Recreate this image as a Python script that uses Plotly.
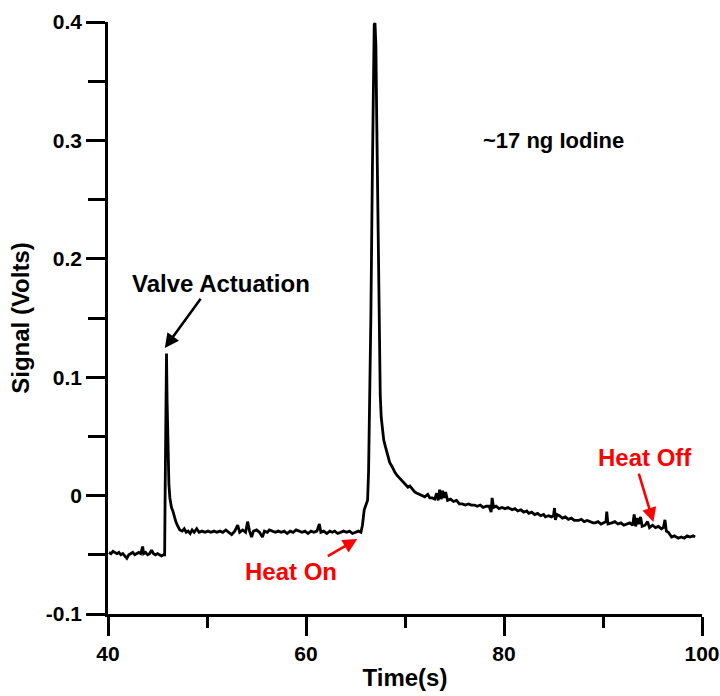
import plotly.graph_objects as go

time_s = [
    40.1, 40.3, 40.5, 40.7, 40.9, 41.1, 41.3, 41.5, 41.7, 41.9, 42.1, 42.3, 42.5, 42.7, 42.9,
    43.1, 43.3, 43.5, 43.6, 43.8, 44.0, 44.2, 44.4, 44.6, 44.8, 45.0, 45.2, 45.4, 45.6, 45.72,
    45.78, 45.85, 45.91, 45.97, 46.05, 46.15, 46.25, 46.41, 46.55, 46.7, 46.85, 47.0, 47.25,
    47.5, 47.7, 47.9, 48.1, 48.3, 48.5, 48.7, 48.96, 49.2, 49.5, 49.8, 50.1, 50.4, 50.7, 51.0,
    51.3, 51.6, 51.9, 52.2, 52.49, 52.8, 53.1, 53.3, 53.6, 53.9, 54.1, 54.3, 54.5, 54.7, 55.0,
    55.3, 55.6, 55.8, 56.1, 56.3, 56.6, 56.9, 57.2, 57.5, 57.8, 58.1, 58.4, 58.7, 59.0, 59.3,
    59.6, 59.9, 60.2, 60.5, 60.8, 61.1, 61.35, 61.5, 61.8, 62.1, 62.4, 62.66, 62.9, 63.2, 63.5,
    63.8, 64.1, 64.4, 64.7, 65.0, 65.3, 65.55, 65.7, 65.88, 66.08, 66.22, 66.32, 66.42, 66.55,
    66.7, 66.82, 66.89, 66.97, 67.06, 67.14, 67.22, 67.30, 67.39, 67.5, 67.6, 67.72, 67.85,
    68.0, 68.23, 68.45, 68.73, 68.95, 69.2, 69.41, 69.6, 69.8, 70.08, 70.3, 70.5, 70.75, 71.0,
    71.22, 71.5, 71.75, 72.0, 72.3, 72.5, 72.76, 73.0, 73.2, 73.35, 73.5, 73.65, 73.8, 73.95,
    74.1, 74.3, 74.6, 74.9, 75.2, 75.5, 75.78, 76.1, 76.4, 76.7, 77.0, 77.3, 77.6, 77.9, 78.2,
    78.5, 78.7, 78.8, 78.95, 79.2, 79.5, 79.8, 80.1, 80.4, 80.82, 81.1, 81.4, 81.7, 82.0, 82.3,
    82.5, 82.8, 83.1, 83.4, 83.7, 84.0, 84.18, 84.5, 84.8, 85.0, 85.1, 85.19, 85.35, 85.6, 85.9,
    86.2, 86.5, 86.8, 87.1, 87.53, 87.8, 88.1, 88.4, 88.7, 89.0, 89.21, 89.5, 89.8, 90.1, 90.3,
    90.38, 90.5, 90.89, 91.2, 91.5, 91.8, 92.1, 92.4, 92.7, 93.0, 93.15, 93.3, 93.45, 93.6,
    93.8, 93.95, 94.25, 94.5, 94.7, 95.0, 95.3, 95.6, 95.9, 96.1, 96.26, 96.4, 96.6, 96.93,
    97.2, 97.6, 97.9, 98.2, 98.5, 98.8, 99.1, 99.3,
]

signal_v = [
    -0.048, -0.049, -0.047, -0.048, -0.049, -0.048, -0.050, -0.049, -0.051, -0.053, -0.050,
    -0.049, -0.048, -0.050, -0.049, -0.048, -0.049, -0.043, -0.049, -0.048, -0.050, -0.049,
    -0.046, -0.049, -0.050, -0.049, -0.050, -0.051, -0.050, -0.050,
    0.010, 0.085, 0.120, 0.080, 0.035, 0.010, -0.002, -0.010, -0.013, -0.018, -0.022, -0.025,
    -0.029, -0.030, -0.028, -0.031, -0.030, -0.032, -0.029, -0.031, -0.028, -0.031, -0.030,
    -0.031, -0.030, -0.031, -0.030, -0.031, -0.030, -0.031, -0.029, -0.031, -0.033, -0.030,
    -0.025, -0.031, -0.029, -0.031, -0.022, -0.030, -0.035, -0.030, -0.029, -0.031, -0.035,
    -0.030, -0.031, -0.029, -0.030, -0.031, -0.030, -0.031, -0.030, -0.032, -0.030, -0.031,
    -0.029, -0.030, -0.031, -0.030, -0.032, -0.030, -0.031, -0.030, -0.024, -0.031, -0.030,
    -0.032, -0.030, -0.031, -0.030, -0.032, -0.031, -0.030, -0.031, -0.030, -0.032, -0.031,
    -0.030, -0.031, -0.025, -0.012, -0.007, -0.004, 0.020, 0.070, 0.150, 0.270, 0.360, 0.398,
    0.399, 0.380, 0.320, 0.260, 0.180, 0.115, 0.085, 0.066, 0.054, 0.047, 0.042, 0.035, 0.028,
    0.024, 0.020, 0.017, 0.015, 0.013, 0.011, 0.009, 0.007, 0.008, 0.005, 0.003, 0.002, 0.001,
    0.000, -0.001, 0.001, -0.002, -0.002, -0.003, 0.002, -0.004, 0.005, -0.003, 0.004, -0.002,
    0.003, -0.004, -0.003, -0.005, -0.004, -0.007, -0.007, -0.008, -0.007, -0.008, -0.008,
    -0.009, -0.008, -0.010, -0.009, -0.009, -0.014, -0.002, -0.010, -0.009, -0.011, -0.010,
    -0.011, -0.010, -0.012, -0.011, -0.013, -0.012, -0.014, -0.013, -0.015, -0.014, -0.016,
    -0.015, -0.017, -0.016, -0.018, -0.017, -0.018, -0.017, -0.0105, -0.0205, -0.016, -0.017,
    -0.019, -0.018, -0.020, -0.019, -0.021, -0.021, -0.020, -0.022, -0.021, -0.022, -0.023,
    -0.023, -0.022, -0.024, -0.023, -0.022, -0.0136, -0.024, -0.023, -0.022, -0.024, -0.023,
    -0.025, -0.024, -0.023, -0.025, -0.016, -0.026, -0.019, -0.024, -0.018, -0.026, -0.025,
    -0.022, -0.027, -0.025, -0.027, -0.026, -0.028, -0.027, -0.0205, -0.030, -0.031, -0.035,
    -0.034, -0.036, -0.035, -0.036, -0.034, -0.035, -0.034, -0.035,
]

x_tick_vals = [40, 60, 80, 100]
x_tick_text = ["40", "60", "80", "100"]
y_tick_vals = [-0.1, 0.0, 0.1, 0.2, 0.3, 0.4]
y_tick_text = ["-0.1", "0", "0.1", "0.2", "0.3", "0.4"]

FONT = "Arial, Liberation Sans, sans-serif"

fig = go.Figure()
fig.add_trace(go.Scatter(
    x=time_s, y=signal_v, mode="lines",
    line=dict(color="black", width=2.8), showlegend=False,
))

axis_common = dict(
    showline=True, linecolor="black", linewidth=2.5,
    ticks="outside", tickwidth=2.5, tickcolor="black", ticklen=19,
    showgrid=False, zeroline=False, mirror=False,
    tickfont=dict(family=FONT, size=21, color="black", weight="bold"),
    ticklabeloverflow="allow", automargin=False,
)

fig.update_xaxes(
    range=[40, 100], tickvals=x_tick_vals, ticktext=x_tick_text,
    minor=dict(dtick=10, tick0=40, ticks="outside", ticklen=11, tickwidth=2.5, tickcolor="black"),
    title=dict(text="Time(s)", font=dict(family=FONT, size=24, color="black", weight="bold"), standoff=6),
    **axis_common,
)
fig.update_yaxes(
    range=[-0.1, 0.4], tickvals=y_tick_vals, ticktext=y_tick_text,
    minor=dict(dtick=0.05, tick0=0, ticks="outside", ticklen=17, tickwidth=2.5, tickcolor="black"),
    title=dict(text="Signal (Volts)", font=dict(family=FONT, size=24, color="black", weight="bold"), standoff=10),
    **axis_common,
)

ann_font = dict(family=FONT, size=24, weight="bold")
annotations = [
    dict(x=51.38, y=0.1795, text="Valve Actuation", showarrow=False,
         font=dict(color="black", **ann_font)),
    dict(x=85.0, y=0.300, text="~17 ng Iodine", showarrow=False,
         font=dict(color="black", size=22, family=FONT, weight="bold")),
    dict(x=58.53, y=-0.0645, text="Heat On", showarrow=False,
         font=dict(color="#ff0000", **ann_font)),
    dict(x=94.28, y=0.0318, text="Heat Off", showarrow=False,
         font=dict(color="#ff0000", **ann_font)),
    dict(x=45.74, y=0.1246, ax=49.47, ay=0.1676, axref="x", ayref="y", text="",
         showarrow=True, arrowhead=2, arrowsize=1.1, arrowwidth=2.6, arrowcolor="black"),
    dict(x=65.18, y=-0.0367, ax=62.05, ay=-0.0519, axref="x", ayref="y", text="",
         showarrow=True, arrowhead=2, arrowsize=1.1, arrowwidth=2.6, arrowcolor="#ff0000"),
    dict(x=95.09, y=-0.0224, ax=93.57, ay=0.0199, axref="x", ayref="y", text="",
         showarrow=True, arrowhead=2, arrowsize=1.1, arrowwidth=2.6, arrowcolor="#ff0000"),
]

fig.update_layout(
    width=720, height=696,
    margin=dict(l=108, r=18, t=22, b=82, autoexpand=False),
    paper_bgcolor="white", plot_bgcolor="white",
    annotations=annotations,
    font=dict(family=FONT, color="black"),
)

fig.write_html("out.html")
